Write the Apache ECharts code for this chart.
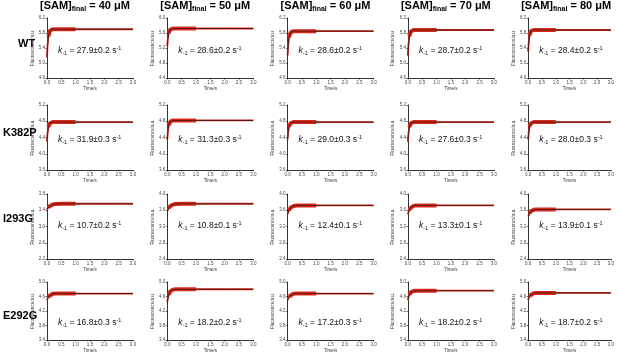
<!DOCTYPE html>
<html>
<head>
<meta charset="utf-8">
<script src="https://cdn.jsdelivr.net/npm/echarts@6/dist/echarts.min.js"></script>
<style>
  html, body { margin: 0; padding: 0; background: #fff; }
  #main { width: 617px; height: 354px; }
</style>
</head>
<body>
<div id="main"></div>
<script>
// time points (s)
var times = [0, 0.02, 0.05, 0.1, 0.2, 0.3, 0.5, 1.0, 2.0, 3.0];
var concs = ['40', '50', '60', '70', '80'];
var mutants = ['WT', 'K382P', 'I293G', 'E292G'];

// fluorescence (a.u.) per panel, columns = 40..80 uM
var wtTraces = [
    [5.15, 5.47, 5.71, 5.86, 5.90, 5.90, 5.90, 5.90, 5.90, 5.90],
    [5.25, 5.45, 5.60, 5.69, 5.72, 5.72, 5.72, 5.72, 5.72, 5.72],
    [5.20, 5.48, 5.69, 5.81, 5.85, 5.85, 5.85, 5.85, 5.85, 5.85],
    [5.20, 5.49, 5.71, 5.84, 5.88, 5.88, 5.88, 5.88, 5.88, 5.88],
    [5.30, 5.55, 5.74, 5.85, 5.88, 5.88, 5.88, 5.88, 5.88, 5.88]
];
var k382pTraces = [
    [4.30, 4.51, 4.66, 4.75, 4.78, 4.78, 4.78, 4.78, 4.78, 4.78],
    [4.35, 4.55, 4.70, 4.79, 4.82, 4.82, 4.82, 4.82, 4.82, 4.82],
    [4.35, 4.54, 4.67, 4.75, 4.78, 4.78, 4.78, 4.78, 4.78, 4.78],
    [4.30, 4.50, 4.66, 4.75, 4.78, 4.78, 4.78, 4.78, 4.78, 4.78],
    [4.35, 4.54, 4.67, 4.75, 4.78, 4.78, 4.78, 4.78, 4.78, 4.78]
];
var i293gTraces = [
    [3.42, 3.45, 3.48, 3.51, 3.54, 3.555, 3.56, 3.56, 3.56, 3.56],
    [3.58, 3.61, 3.65, 3.70, 3.74, 3.755, 3.76, 3.76, 3.76, 3.76],
    [3.50, 3.55, 3.60, 3.66, 3.70, 3.715, 3.72, 3.72, 3.72, 3.72],
    [3.50, 3.55, 3.61, 3.66, 3.71, 3.72, 3.72, 3.72, 3.72, 3.72],
    [3.45, 3.49, 3.53, 3.58, 3.61, 3.62, 3.62, 3.62, 3.62, 3.62]
];
var e292gTraces = [
    [4.50, 4.55, 4.60, 4.65, 4.675, 4.68, 4.68, 4.68, 4.68, 4.68],
    [4.45, 4.55, 4.65, 4.74, 4.79, 4.80, 4.80, 4.80, 4.80, 4.80],
    [4.50, 4.55, 4.60, 4.65, 4.675, 4.68, 4.68, 4.68, 4.68, 4.68],
    [4.50, 4.58, 4.65, 4.72, 4.75, 4.76, 4.76, 4.76, 4.76, 4.76],
    [4.50, 4.56, 4.62, 4.67, 4.69, 4.70, 4.70, 4.70, 4.70, 4.70]
];

// y axis lower limits (every axis spans 1.6 in steps of 0.4)
var wtYMin = [4.6, 4.4, 4.6, 4.6, 4.6];
var k382pYMin = [3.6, 3.6, 3.6, 3.6, 3.6];
var i293gYMin = [2.2, 2.4, 2.4, 2.4, 2.4];
var e292gYMin = [3.4, 3.4, 3.4, 3.4, 3.4];

var wtRates = ['27.9±0.2', '28.6±0.2', '28.6±0.2', '28.7±0.2', '28.4±0.2'];
var k382pRates = ['31.9±0.3', '31.3±0.3', '29.0±0.3', '27.6±0.3', '28.0±0.3'];
var i293gRates = ['10.7±0.2', '10.8±0.1', '12.4±0.1', '13.3±0.1', '13.9±0.1'];
var e292gRates = ['16.8±0.3', '18.2±0.2', '17.2±0.3', '18.2±0.2', '18.7±0.2'];

var traces = [wtTraces, k382pTraces, i293gTraces, e292gTraces];
var yMins = [wtYMin, k382pYMin, i293gYMin, e292gYMin];
var rates = [wtRates, k382pRates, i293gRates, e292gRates];

var chart = echarts.init(document.getElementById('main'));

var rowTop = [18, 105, 194, 282];
var rowHeight = [60, 65, 65, 60];
var rateY = [51, 140, 226, 323];
var rowLabelX = [36, 21, 21, 21];
var FONT = 'Liberation Sans, Arial, sans-serif';

var grids = [], xAxes = [], yAxes = [], series = [], graphics = [];

for (var r = 0; r < 4; r++) {
    for (var c = 0; c < 5; c++) {
        var idx = r * 5 + c;
        var left = 47 + 120.3 * c;
        grids.push({ left: left, top: rowTop[r], width: 86, height: rowHeight[r] });
        xAxes.push({
            gridIndex: idx, type: 'value', min: 0, max: 3, interval: 0.5,
            name: 'Time/s', nameLocation: 'middle', nameGap: 8,
            nameTextStyle: { fontSize: 4.5, color: '#333', fontFamily: FONT },
            axisLine: { lineStyle: { color: '#000', width: 0.8 } },
            axisTick: { length: 1.5, lineStyle: { color: '#000', width: 0.6 } },
            axisLabel: { fontSize: 4.5, color: '#444', margin: 2, fontFamily: FONT,
                formatter: function (v) { return v.toFixed(1); } },
            splitLine: { show: false }
        });
        var ymin = yMins[r][c];
        yAxes.push({
            gridIndex: idx, type: 'value', min: ymin, max: +(ymin + 1.6).toFixed(1), interval: 0.4,
            name: 'Fluorescence/a.u.', nameLocation: 'middle', nameGap: 11,
            nameTextStyle: { fontSize: 4.5, color: '#333', fontFamily: FONT },
            axisLine: { show: true, lineStyle: { color: '#000', width: 0.8 } },
            axisTick: { show: true, length: 1.5, lineStyle: { color: '#000', width: 0.6 } },
            axisLabel: { fontSize: 4.5, color: '#444', margin: 2, fontFamily: FONT,
                formatter: function (v) { return v.toFixed(1); } },
            splitLine: { show: false }
        });

        var vals = traces[r][c];
        var pts = [], band = [];
        for (var i = 0; i < times.length; i++) {
            pts.push([times[i], vals[i]]);
            if (times[i] >= 0.05 && times[i] <= 1.0) band.push([times[i], vals[i]]);
        }
        // noisy data, dense part (0-1 s)
        series.push({
            type: 'line', xAxisIndex: idx, yAxisIndex: idx, data: band,
            symbol: 'none', silent: true,
            lineStyle: { color: '#d8281c', width: 4 }
        });
        // data, full trace
        series.push({
            type: 'line', xAxisIndex: idx, yAxisIndex: idx, data: pts,
            symbol: 'none', silent: true,
            lineStyle: { color: '#e0301e', width: 1.8 }
        });
        // single exponential fit
        series.push({
            type: 'line', xAxisIndex: idx, yAxisIndex: idx, data: pts,
            symbol: 'none', silent: true,
            lineStyle: { color: '#1a0a08', width: 0.7 }
        });

        graphics.push({
            type: 'text', left: left + 11, top: rateY[r] - 6,
            style: {
                text: '{k|k}{s|-1}{n| = ' + rates[r][c] + ' s}{p|-1}',
                rich: {
                    k: { fontSize: 8.5, fontStyle: 'italic', fontFamily: FONT, fill: '#111' },
                    s: { fontSize: 5.5, fontFamily: FONT, fill: '#111', padding: [6, 0, 0, 0] },
                    n: { fontSize: 8.5, fontFamily: FONT, fill: '#111' },
                    p: { fontSize: 5.5, fontFamily: FONT, fill: '#111', padding: [0, 0, 5, 0] }
                }
            }
        });
    }
    graphics.push({
        type: 'text', left: rowLabelX[r] - 18, top: rateY[r] - 13,
        style: { text: mutants[r], font: 'bold 11px ' + FONT, fill: '#000', width: 36, align: 'center' }
    });
}

for (var c2 = 0; c2 < 5; c2++) {
    graphics.push({
        type: 'text', left: 47 + 120.3 * c2 + 43 - 50, top: 0,
        style: {
            text: '{a|[SAM]}{s|final}{a| = ' + concs[c2] + ' μM}',
            width: 100, align: 'center',
            rich: {
                a: { fontSize: 11, fontWeight: 'bold', fontFamily: FONT, fill: '#000' },
                s: { fontSize: 7, fontWeight: 'bold', fontFamily: FONT, fill: '#000', padding: [7, 0, 0, 0] }
            }
        }
    });
}

chart.setOption({
    animation: false,
    grid: grids,
    xAxis: xAxes,
    yAxis: yAxes,
    series: series,
    graphic: graphics
});
</script>
</body>
</html>
